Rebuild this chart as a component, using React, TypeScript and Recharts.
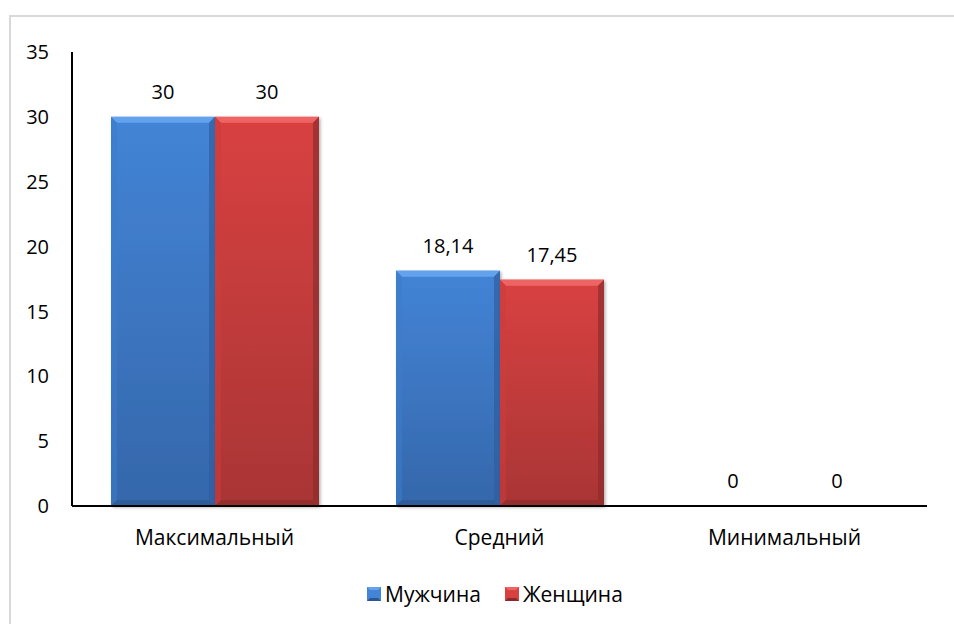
import React from "react";
import { BarChart, Bar, XAxis, YAxis, LabelList, Legend } from "recharts";

const categories = ["Максимальный", "Средний", "Минимальный"];
const maleValues = [30, 18.14, 0];
const femaleValues = [30, 17.45, 0];
const yTicks = [0, 5, 10, 15, 20, 25, 30, 35];
const seriesNames = ["Мужчина", "Женщина"];

const data = categories.map((c, i) => ({
  name: c,
  male: maleValues[i],
  female: femaleValues[i],
}));

const FONT = "'Open Sans', sans-serif";

type Pal = { id: string; top: string; bottom: string; bevelTop: string; bevelLeft: string; bevelRight: string; bevelBottom: string };

const BLUE: Pal = {
  id: "blue",
  top: "#4384d6",
  bottom: "#3567ab",
  bevelTop: "#64a2ec",
  bevelLeft: "#3d7cca",
  bevelRight: "#2f5e9f",
  bevelBottom: "#2c5690",
};
const RED: Pal = {
  id: "red",
  top: "#d94141",
  bottom: "#a93535",
  bevelTop: "#ee6464",
  bevelLeft: "#cc3c3c",
  bevelRight: "#8f2c2c",
  bevelBottom: "#8a2a2a",
};

const BevelBar = (props: any) => {
  const { x, y, width, height, pal } = props;
  if (!height || height <= 0) return null;
  const b = Math.min(6, height / 2, width / 2);
  const p = pal as Pal;
  return (
    <g filter="url(#barShadow)">
      <rect x={x} y={y} width={width} height={height} fill={`url(#grad-${p.id})`} />
      <polygon
        points={`${x},${y} ${x + width},${y} ${x + width - b},${y + b} ${x + b},${y + b}`}
        fill={p.bevelTop}
      />
      <polygon
        points={`${x},${y} ${x + b},${y + b} ${x + b},${y + height - b} ${x},${y + height}`}
        fill={p.bevelLeft}
        opacity={0.55}
      />
      <polygon
        points={`${x + width},${y} ${x + width},${y + height} ${x + width - b},${y + height - b} ${x + width - b},${y + b}`}
        fill={p.bevelRight}
        opacity={0.7}
      />
      <polygon
        points={`${x},${y + height} ${x + width},${y + height} ${x + width - b},${y + height - b} ${x + b},${y + height - b}`}
        fill={p.bevelBottom}
        opacity={0.6}
      />
    </g>
  );
};

const fmt = (v: any) => String(v).replace(".", ",");

const LegendContent = () => {
  const items = [
    { name: seriesNames[0], pal: BLUE },
    { name: seriesNames[1], pal: RED },
  ];
  return (
    <div style={{ display: "flex", alignItems: "center", height: 24, fontFamily: FONT, fontSize: 21, color: "#000" }}>
      {items.map((it, i) => (
        <div key={it.name} style={{ display: "flex", alignItems: "center", marginRight: i === 0 ? 24 : 0 }}>
          <svg width={14} height={14} style={{ marginRight: 4 }}>
            <rect x={0} y={0} width={14} height={14} fill={it.pal.top} />
            <polygon points="0,0 14,0 11,3 3,3" fill={it.pal.bevelTop} />
            <polygon points="0,14 14,14 11,11 3,11" fill={it.pal.bevelBottom} />
          </svg>
          <span style={{ lineHeight: "24px" }}>{it.name}</span>
        </div>
      ))}
    </div>
  );
};

export default function App() {
  return (
    <div style={{ position: "absolute", left: 0, top: 0, width: 954, height: 624, overflow: "hidden", background: "#fff" }}>
      <div
        style={{
          position: "absolute",
          left: 9,
          top: 15,
          width: 1000,
          height: 700,
          borderTop: "2px solid #d9d9d9",
          borderLeft: "2px solid #d9d9d9",
        }}
      />
      <div style={{ position: "absolute", left: 0, top: 0 }}>
        <BarChart
          width={954}
          height={624}
          data={data}
          margin={{ top: 52, right: 27, left: 0, bottom: 24 }}
          barGap={0}
          barSize={104}
        >
          <defs>
            <linearGradient id="grad-blue" x1="0" y1="0" x2="0" y2="1">
              <stop offset="0%" stopColor={BLUE.top} />
              <stop offset="100%" stopColor={BLUE.bottom} />
            </linearGradient>
            <linearGradient id="grad-red" x1="0" y1="0" x2="0" y2="1">
              <stop offset="0%" stopColor={RED.top} />
              <stop offset="100%" stopColor={RED.bottom} />
            </linearGradient>
            <filter id="barShadow" x="-10%" y="-10%" width="125%" height="125%">
              <feDropShadow dx="1.5" dy="1.5" stdDeviation="1.5" floodColor="#000" floodOpacity="0.3" />
            </filter>
          </defs>
          <XAxis
            dataKey="name"
            height={70}
            axisLine={{ stroke: "#000", strokeWidth: 2 }}
            tickLine={false}
            tickSize={0}
            tickMargin={24}
            tick={{ fill: "#000", fontSize: 21, fontFamily: FONT }}
          />
          <YAxis
            domain={[0, 35]}
            ticks={yTicks}
            width={72}
            axisLine={{ stroke: "#000", strokeWidth: 2 }}
            tickLine={false}
            tickSize={0}
            tickMargin={23}
            tick={{ fill: "#000", fontSize: 20, fontFamily: FONT }}
          />
          <Legend
            verticalAlign="bottom"
            content={<LegendContent />}
            wrapperStyle={{ position: "absolute", top: 582, bottom: "auto", left: 367, width: "auto", height: 24 }}
          />
          <Bar
            dataKey="male"
            name={seriesNames[0]}
            fill={BLUE.top}
            isAnimationActive={false}
            shape={(p: any) => <BevelBar {...p} pal={BLUE} />}
          >
            <LabelList dataKey="male" position="top" offset={18} formatter={fmt} style={{ fill: "#000", fontSize: 20, fontFamily: FONT }} />
          </Bar>
          <Bar
            dataKey="female"
            name={seriesNames[1]}
            fill={RED.top}
            isAnimationActive={false}
            shape={(p: any) => <BevelBar {...p} pal={RED} />}
          >
            <LabelList dataKey="female" position="top" offset={18} formatter={fmt} style={{ fill: "#000", fontSize: 20, fontFamily: FONT }} />
          </Bar>
        </BarChart>
      </div>
    </div>
  );
}
